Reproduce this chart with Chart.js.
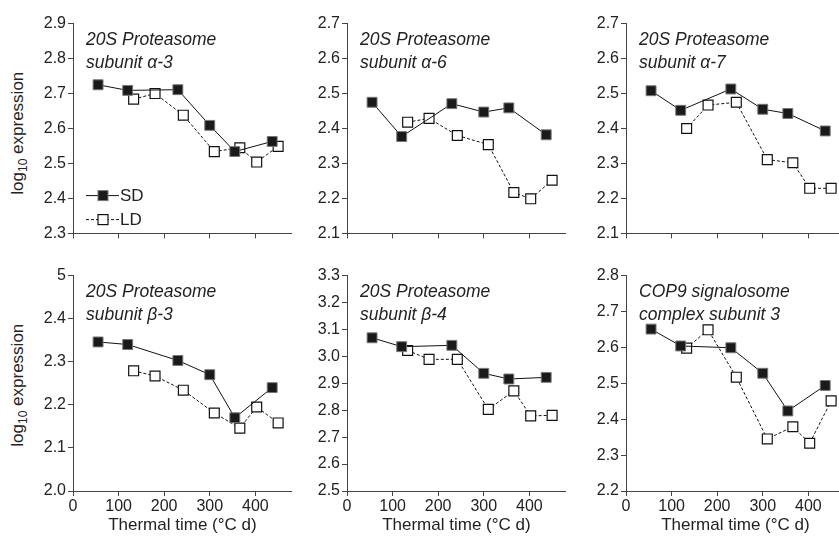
<!DOCTYPE html>
<html>
<head>
<meta charset="utf-8">
<script src="https://cdn.jsdelivr.net/npm/chart.js@4.4.1/dist/chart.umd.min.js"></script>
<style>
  body { margin: 0; width: 839px; height: 536px; overflow: hidden; background: #fff; position: relative;
         font-family: "Liberation Sans", Arial, sans-serif; color: #222; }
  .panel { position: absolute; }
  .ytitle { position: absolute; width: 200px; text-align: center; font-size: 17px; transform: rotate(-90deg); }
  .ytitle sub { font-size: 12px; }
</style>
</head>
<body>
<div class="ytitle" style="left:-81px; top:122px;">log<sub>10</sub> expression</div>
<div class="ytitle" style="left:-81px; top:374px;">log<sub>10</sub> expression</div>

<script>
// thermal time of each sampling (°C d)
const sdTime = [55, 120, 230, 300, 355, 437];
const ldTime = [133, 180, 242, 310, 366, 403, 450];

const panelTitles = [
  ['20S Proteasome', 'subunit α-3'],
  ['20S Proteasome', 'subunit α-6'],
  ['20S Proteasome', 'subunit α-7'],
  ['20S Proteasome', 'subunit β-3'],
  ['20S Proteasome', 'subunit β-4'],
  ['COP9 signalosome', 'complex subunit 3']
];

// log10 expression, short days (SD) and long days (LD)
const alpha3Sd = [2.725, 2.709, 2.711, 2.609, 2.534, 2.563];
const alpha3Ld = [2.684, 2.700, 2.638, 2.534, 2.545, 2.504, 2.549];
const alpha6Sd = [2.475, 2.377, 2.471, 2.447, 2.459, 2.382];
const alpha6Ld = [2.418, 2.429, 2.380, 2.354, 2.217, 2.199, 2.252];
const alpha7Sd = [2.508, 2.452, 2.513, 2.455, 2.443, 2.393];
const alpha7Ld = [2.400, 2.467, 2.475, 2.311, 2.302, 2.229, 2.229];
const beta3Sd = [2.346, 2.340, 2.303, 2.270, 2.170, 2.240];
const beta3Ld = [2.279, 2.267, 2.234, 2.181, 2.146, 2.195, 2.158];
const beta4Sd = [3.069, 3.036, 3.041, 2.937, 2.916, 2.922];
const beta4Ld = [3.022, 2.989, 2.989, 2.803, 2.872, 2.779, 2.781];
const cop9Sd = [2.651, 2.604, 2.599, 2.528, 2.423, 2.494];
const cop9Ld = [2.598, 2.649, 2.517, 2.345, 2.379, 2.333, 2.451];

const sdSeries = [alpha3Sd, alpha6Sd, alpha7Sd, beta3Sd, beta4Sd, cop9Sd];
const ldSeries = [alpha3Ld, alpha6Ld, alpha7Ld, beta3Ld, beta4Ld, cop9Ld];

const yMins = [2.3, 2.1, 2.1, 2.0, 2.5, 2.2];
const yMaxs = [2.9, 2.7, 2.7, 2.5, 3.3, 2.8];
const xTicks = [0, 100, 200, 300, 400];
const xMax = 480;

// layout of the six plot areas
const plotLefts = [73, 347, 626];
const plotTops = [21, 273];
const plotW = 219, plotH = 218;
const yAxisW = 45, padTop = 9;

const axisColor = '#444';
const textColor = '#222';
const fontFam = '"Liberation Sans", Arial, sans-serif';

const panelLabel = {
  id: 'panelLabel',
  afterDraw(chart, args, opts) {
    const { ctx, chartArea } = chart;
    ctx.save();
    ctx.fillStyle = textColor;
    ctx.font = 'italic 17.5px ' + fontFam;
    ctx.textBaseline = 'alphabetic';
    ctx.fillText(opts.lines[0], chartArea.left + 13, chartArea.top + 21);
    ctx.fillText(opts.lines[1], chartArea.left + 13, chartArea.top + 44);
    ctx.restore();
  }
};

const inlineLegend = {
  id: 'inlineLegend',
  afterDraw(chart, args, opts) {
    if (!opts.show) return;
    const { ctx, chartArea } = chart;
    const x0 = chartArea.left + 13, x1 = chartArea.left + 46, xm = chartArea.left + 30;
    chart.data.datasets.forEach((ds, i) => {
      const y = chartArea.top + 172 + i * 24;
      ctx.save();
      ctx.strokeStyle = '#111';
      ctx.lineWidth = 1;
      ctx.setLineDash(ds.borderDash || []);
      ctx.beginPath();
      ctx.moveTo(x0, y); ctx.lineTo(x1, y);
      ctx.stroke();
      ctx.setLineDash([]);
      ctx.fillStyle = ds.pointBackgroundColor;
      ctx.strokeStyle = ds.pointBorderColor;
      ctx.lineWidth = ds.pointBorderWidth;
      ctx.fillRect(xm - 5, y - 5, 10, 10);
      ctx.strokeRect(xm - 5, y - 5, 10, 10);
      ctx.fillStyle = textColor;
      ctx.font = '17px ' + fontFam;
      ctx.textBaseline = 'middle';
      ctx.fillText(ds.label, x1 + 1, y + 1);
      ctx.restore();
    });
  }
};

function makePanel(i) {
  const row = Math.floor(i / 3), col = i % 3;
  const bottomRow = row === 1;
  const xAxisH = bottomRow ? 45 : 6;
  const canvasW = yAxisW + plotW + 8;
  const canvasH = padTop + plotH + xAxisH;

  const div = document.createElement('div');
  div.className = 'panel';
  div.style.left = (plotLefts[col] - yAxisW) + 'px';
  div.style.top = (plotTops[row] - padTop) + 'px';
  const canvas = document.createElement('canvas');
  canvas.width = canvasW;
  canvas.height = canvasH;
  div.appendChild(canvas);
  document.body.appendChild(div);

  new Chart(canvas.getContext('2d'), {
    type: 'line',
    data: {
      datasets: [{
        label: 'SD',
        data: sdTime.map((t, k) => ({ x: t, y: sdSeries[i][k] })),
        borderColor: '#111',
        borderWidth: 1,
        pointStyle: 'rect',
        pointRadius: 7,
        pointBackgroundColor: '#1a1a1a',
        pointBorderColor: '#777',
        pointBorderWidth: 1,
        tension: 0
      }, {
        label: 'LD',
        data: ldTime.map((t, k) => ({ x: t, y: ldSeries[i][k] })),
        borderColor: '#111',
        borderWidth: 1,
        borderDash: [3, 2],
        pointStyle: 'rect',
        pointRadius: 7,
        pointBackgroundColor: '#fff',
        pointBorderColor: '#111',
        pointBorderWidth: 1.2,
        tension: 0
      }]
    },
    options: {
      responsive: false,
      animation: false,
      layout: { padding: { top: padTop, right: 8, left: 0, bottom: 0 } },
      plugins: {
        legend: { display: false },
        tooltip: { enabled: false },
        panelLabel: { lines: panelTitles[i] },
        inlineLegend: { show: i === 0 }
      },
      scales: {
        x: {
          type: 'linear',
          min: 0,
          max: xMax,
          afterFit: s => { s.height = xAxisH; },
          afterBuildTicks: s => { s.ticks = xTicks.map(v => ({ value: v })); },
          grid: { drawOnChartArea: false, tickLength: 5, color: axisColor },
          border: { color: axisColor, width: 1 },
          ticks: {
            display: bottomRow,
            color: textColor,
            font: { size: 16, family: fontFam },
            padding: 1,
            maxRotation: 0
          },
          title: {
            display: bottomRow,
            text: 'Thermal time (°C d)',
            color: textColor,
            font: { size: 17, family: fontFam },
            padding: { top: 0, bottom: 0 }
          }
        },
        y: {
          min: yMins[i],
          max: yMaxs[i],
          afterFit: s => { s.width = yAxisW; },
          grid: { drawOnChartArea: false, tickLength: 5, color: axisColor },
          border: { color: axisColor, width: 1 },
          ticks: {
            stepSize: 0.1,
            color: textColor,
            padding: 2,
            font: { size: 16, family: fontFam },
            // the beta-3 panel prints its top tick as "5"
            callback: v => (i === 3 && Math.abs(v - 2.5) < 1e-6) ? '5' : v.toFixed(1)
          }
        }
      }
    },
    plugins: [panelLabel, inlineLegend]
  });
}

for (let i = 0; i < 6; i++) makePanel(i);
</script>
</body>
</html>
